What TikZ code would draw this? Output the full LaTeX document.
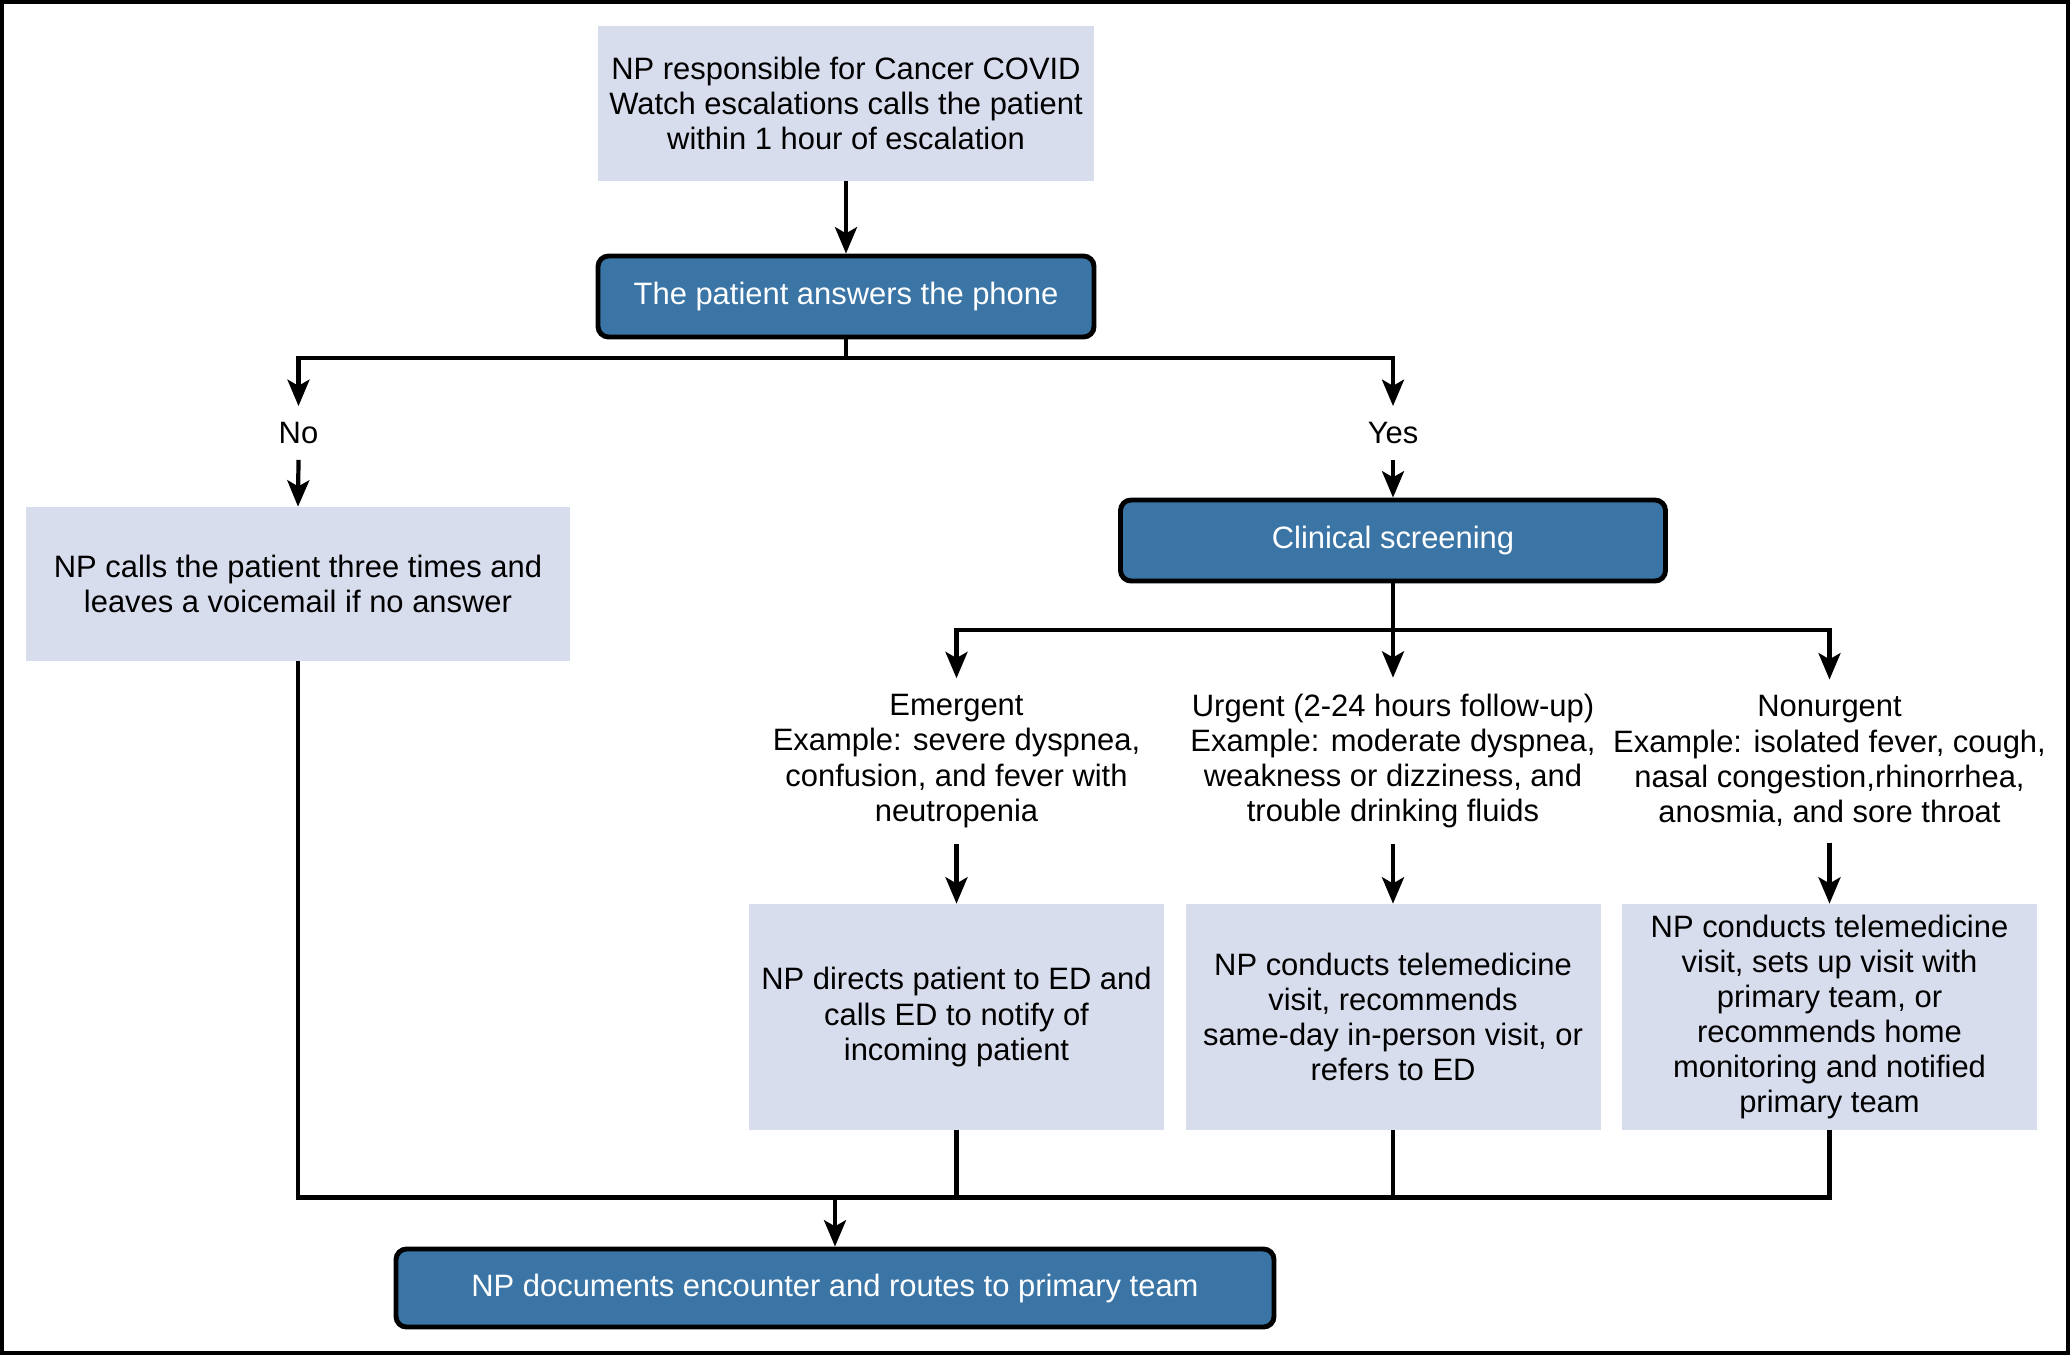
\documentclass[tikz,border=0pt]{standalone}
\usepackage{fontspec}
\setmainfont{Liberation Sans}
\usetikzlibrary{arrows.meta, positioning, calc}

\definecolor{boxfill}{RGB}{216,221,237}
\definecolor{stepblue}{RGB}{58,117,166}

\begin{document}
\begin{tikzpicture}[
    >={Stealth[length=15pt, width=12.5pt, inset=3.5pt]},
    every node/.style={font=\fontsize{17.6}{20}\selectfont, align=center},
    infobox/.style={
      fill=boxfill, inner sep=0pt
    },
    stepbox/.style={
      draw=black, fill=stepblue, text=white, rounded corners=6pt,
      line width=2.8pt, inner sep=0pt
    },
    branchlabel/.style={inner sep=9pt},
    flow arrow/.style={->, line width=2.4pt},
    flow line/.style={line width=2.4pt},
  ]

  %% ---- page and frame ----
  \useasboundingbox (0,0) rectangle (41.4,-27.1);
  \draw[line width=2.4pt] (0.042,-0.042) rectangle (41.358,-27.058);

  %% ---- top: escalation call ----
  \node[infobox, minimum width=9.92cm, minimum height=3.1cm]
    (start) at (16.92,-2.07)
    {NP responsible for Cancer COVID\\Watch escalations calls the patient\\within 1 hour of escalation};
  \node[stepbox, minimum width=9.92cm, minimum height=1.62cm]
    (answer) at (16.92,-5.93) {The patient answers the phone};

  \draw[flow arrow] (start.south) -- (answer.north);

  %% ---- no / yes branch ----
  \coordinate (fork1) at (16.92,-7.16);
  \node[branchlabel] (no)  at (5.97,-8.66)  {No};
  \node[branchlabel] (yes) at (27.86,-8.66) {Yes};

  \draw[flow line]  (answer.south) -- (fork1);
  \draw[flow arrow] (fork1) -| (no.north);
  \draw[flow arrow] (fork1) -| (yes.north);

  \node[infobox, minimum width=10.88cm, minimum height=3.08cm]
    (retry) at (5.96,-11.68)
    {NP calls the patient three times and\\leaves a voicemail if no answer};
  \node[stepbox, minimum width=10.9cm, minimum height=1.62cm]
    (screen) at (27.86,-10.81) {Clinical screening};

  \draw[flow arrow] (no.south)  -- (retry.north);
  \draw[flow arrow] (yes.south) -- (screen.north);

  %% ---- triage categories ----
  \coordinate (fork2) at (27.86,-12.6);
  \node[branchlabel] (emerg) at (19.13,-15.22)
    {Emergent\\Example: severe dyspnea,\\confusion, and fever with\\neutropenia};
  \node[branchlabel] (urgent) at (27.86,-15.22)
    {Urgent (2-24 hours follow-up)\\Example: moderate dyspnea,\\weakness or dizziness, and\\trouble drinking fluids};
  \node[branchlabel] (nonurg) at (36.59,-15.22)
    {Nonurgent\\Example: isolated fever, cough,\\nasal congestion,rhinorrhea,\\anosmia, and sore throat};

  \draw[flow line]  (screen.south) -- (fork2);
  \draw[flow arrow] (fork2) -| (emerg.north);
  \draw[flow arrow] (fork2) -- (urgent.north);
  \draw[flow arrow] (fork2) -| (nonurg.north);

  %% ---- actions ----
  \node[infobox, minimum width=8.3cm, minimum height=4.52cm]
    (emergact) at (19.13,-20.34)
    {NP directs patient to ED and\\calls ED to notify of\\incoming patient};
  \node[infobox, minimum width=8.3cm, minimum height=4.52cm]
    (urgentact) at (27.86,-20.34)
    {NP conducts telemedicine\\visit, recommends\\same-day in-person visit, or\\refers to ED};
  \node[infobox, minimum width=8.3cm, minimum height=4.52cm]
    (nonurgact) at (36.59,-20.34)
    {NP conducts telemedicine\\visit, sets up visit with\\primary team, or\\recommends home\\monitoring and notified\\primary team};

  \draw[flow arrow] (emerg.south)  -- (emergact.north);
  \draw[flow arrow] (urgent.south) -- (urgentact.north);
  \draw[flow arrow] (nonurg.south) -- (nonurgact.north);

  %% ---- merge into documentation ----
  \coordinate (merge) at (16.7,-23.95);
  \node[stepbox, minimum width=17.56cm, minimum height=1.56cm]
    (doc) at (16.7,-25.76) {NP documents encounter and routes to primary team};

  \draw[flow line] (retry.south) -- (retry.south |- merge)
    -- (nonurgact.south |- merge) -- (nonurgact.south);
  \draw[flow line] (emergact.south)  -- (emergact.south |- merge);
  \draw[flow line] (urgentact.south) -- (urgentact.south |- merge);
  \draw[flow arrow] (merge) -- (doc.north);

\end{tikzpicture}
\end{document}
